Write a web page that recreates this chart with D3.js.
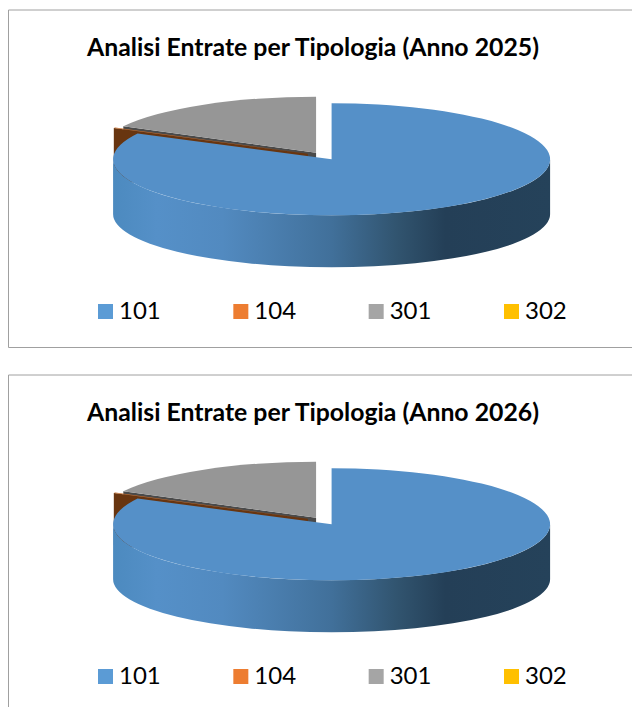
<!DOCTYPE html>
<html>
<head>
<meta charset="utf-8">
<script src="https://cdn.jsdelivr.net/npm/d3@7"></script>
<style>
    html, body { margin: 0; padding: 0; background: #fff; overflow: hidden; }
    text { font-family: Lato, "Open Sans", sans-serif; fill: #000; }
</style>
</head>
<body>
<div id="chart"></div>
<script>
// values, both years look the same
const categories = ["101", "104", "301", "302"];
const values2025 = [82.6, 0.2, 17.2, 0];
const values2026 = [82.6, 0.2, 17.2, 0];
const titles = ["Analisi Entrate per Tipologia (Anno 2025)", "Analisi Entrate per Tipologia (Anno 2026)"];
const legendColors = ["#5b9bd5", "#ed7d31", "#a5a5a5", "#ffc000"];
const topColors = ["#5590c8", "#c46a2a", "#969696", "#e0aa00"];
const faceColors = ["#2a4a68", "#683510", "#4a4a4a", "#7a6000"];

const W = 632, H = 707;
const RX = 218.5, RY = 56, DEPTH = 52, EXPLODE = 15;
const CX = 323.8, CY = 156;
// the bottom rim is a little squarer than the top one
const BOTTOM_SQUASH = 3;

const svg = d3.select("#chart").append("svg")
    .attr("width", W)
    .attr("height", H);

const defs = svg.append("defs");
const wallGrad = defs.append("linearGradient").attr("id", "wall");
[[0, "#4c8abf"], [0.1, "#5590c8"], [0.25, "#528ac0"], [0.5, "#41709a"], [0.65, "#31546f"], [0.76, "#243f57"], [1, "#25425a"]]
    .forEach(s => wallGrad.append("stop").attr("offset", s[0]).attr("stop-color", s[1]));

const pie = d3.pie().sort(null).value(d => d);
const arc = d3.arc().innerRadius(0).outerRadius(1);

// x scale for the legend, one band per category
const legendX = d3.scalePoint().domain(categories).range([98, 504]);

function rimPoint(c, a) {
    return [c[0] + RX * Math.sin(a), c[1] - RY * Math.cos(a)];
}

function drawChart(g, values, title) {
    // frame
    g.append("path")
        .attr("d", "M632,10H8.5V347.5H632")
        .attr("fill", "none")
        .attr("stroke", "#a0a0a0")
        .attr("stroke-width", 1);

    g.append("text")
        .attr("x", 313)
        .attr("y", 56)
        .attr("text-anchor", "middle")
        .style("font-size", "24.8px")
        .style("font-weight", "700")
        .text(title);

    const slices = pie(values).map((d, i) => {
        const mid = (d.startAngle + d.endAngle) / 2;
        const off = i === 1 ? EXPLODE + 3 : EXPLODE;
        return {
            d: d, i: i,
            c: [CX + off * Math.sin(mid), CY - off * Math.cos(mid) * RY / RX]
        };
    });

    // back to front: 301, then 104, then 101. 302 is empty
    slices.filter(s => s.d.value > 0).reverse().forEach(s => {
        const i = s.i;
        const pieG = g.append("g");
        const rimA = rimPoint(s.c, s.d.startAngle);

        if (i !== 0) {
            // cut face that looks at the viewer
            pieG.append("path")
                .attr("d", `M${s.c}L${rimA}V${rimA[1] + DEPTH}L${s.c[0]},${s.c[1] + DEPTH}Z`)
                .attr("fill", faceColors[i]);
        } else {
            // outer wall of the big slice, right edge round to the left edge
            const a = rimPoint(s.c, Math.PI / 2), b = rimPoint(s.c, 1.5 * Math.PI);
            const d2 = DEPTH + BOTTOM_SQUASH, ry2 = RY - BOTTOM_SQUASH;
            pieG.append("path")
                .attr("d", `M${a}A${RX},${RY} 0 0 1 ${b}V${b[1] + d2}A${RX},${ry2} 0 0 0 ${a[0]},${a[1] + d2}Z`)
                .attr("fill", "url(#wall)");
        }

        pieG.append("path")
            .attr("transform", `translate(${s.c}) scale(${RX},${RY})`)
            .attr("d", arc(s.d))
            .attr("fill", topColors[i]);
    });

    // legend
    categories.forEach((c, i) => {
        const x = legendX(c);
        g.append("rect")
            .attr("x", x)
            .attr("y", 304)
            .attr("width", 15)
            .attr("height", 15)
            .attr("fill", legendColors[i]);
        g.append("text")
            .attr("x", x + 21)
            .attr("y", 319)
            .style("font-size", "24px")
            .text(c);
    });
}

drawChart(svg.append("g"), values2025, titles[0]);
drawChart(svg.append("g").attr("transform", "translate(0,365)"), values2026, titles[1]);
</script>
</body>
</html>
